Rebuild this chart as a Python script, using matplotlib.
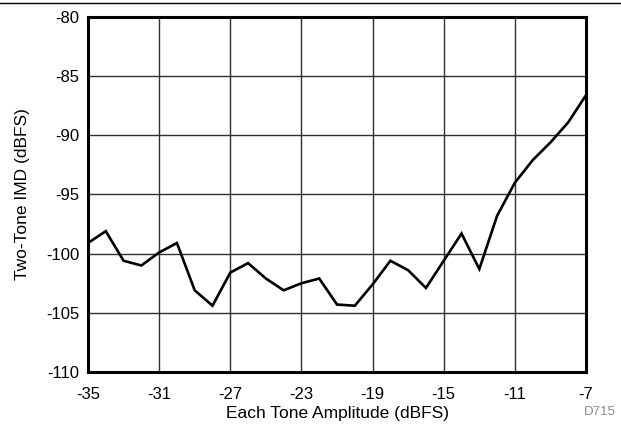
import matplotlib
matplotlib.use("Agg")
import matplotlib.pyplot as plt
from matplotlib.lines import Line2D

plt.rcParams['font.family'] = ['Liberation Sans', 'DejaVu Sans']
plt.rcParams['axes.unicode_minus'] = False

# each tone amplitude (dBFS) and two-tone IMD (dBFS)
amplitude = [-35, -34, -33, -32, -31, -30, -29, -28, -27, -26, -25, -24, -23, -22, -21,
             -20, -19, -18, -17, -16, -15, -14, -13, -12, -11, -10, -9, -8, -7]
imd = [-99.1, -98.1, -100.6, -101.0, -99.9, -99.1, -103.1, -104.4, -101.6, -100.8,
       -102.1, -103.1, -102.5, -102.1, -104.3, -104.4, -102.6, -100.6, -101.4, -102.9,
       -100.6, -98.3, -101.3, -96.8, -94.0, -92.1, -90.6, -88.9, -86.6]

xticks = [-35, -31, -27, -23, -19, -15, -11, -7]
yticks = [-110, -105, -100, -95, -90, -85, -80]

fig = plt.figure(figsize=(6.21, 4.30), dpi=100)
ax = fig.add_axes([0.1417, 0.1349, 0.8020, 0.8256])

ax.plot(amplitude, imd, color='black', lw=1.9, solid_joinstyle='miter', zorder=3)

ax.set_xlim(-35, -7)
ax.set_ylim(-110, -80)
ax.set_xticks(xticks)
ax.set_yticks(yticks)
ax.grid(True, color='#303030', lw=1.0)
ax.tick_params(length=0, labelsize=12)
ax.tick_params(axis='x', pad=11)
ax.tick_params(axis='y', pad=6)
for s in ax.spines.values():
    s.set_linewidth(2.2)
    s.set_zorder(4)

ax.set_xlabel('Each Tone Amplitude (dBFS)', fontsize=12.5, labelpad=3)
ax.set_ylabel('Two-Tone IMD (dBFS)', fontsize=12.5, labelpad=12)

# thin rule across the top of the figure
fig.add_artist(Line2D([0, 1], [1 - 2.5 / 430, 1 - 2.5 / 430], color='black', lw=1.0,
                      transform=fig.transFigure))
fig.text(0.966, 1 - 412 / 430, 'D715', ha='center', va='center', fontsize=9.5,
         color='#8a8a8a')

fig.savefig('out.png', dpi=100)
